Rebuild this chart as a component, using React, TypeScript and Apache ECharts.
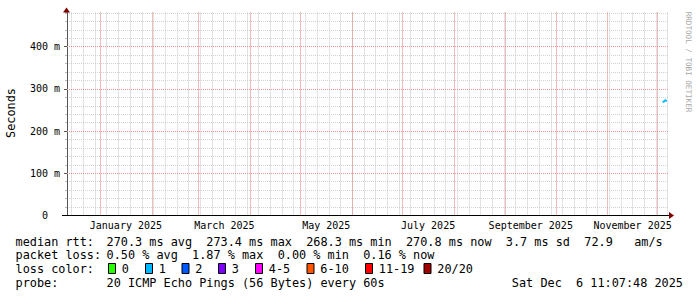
import React, { useEffect, useRef } from "react";
import * as echarts from "echarts";

// ---- data ----
const rangeStartIso = "2024-12-12T05:00:00Z";
const rangeEndIso = "2025-12-07T05:00:00Z";
const yMaxMs = 481;
const yMajorStep = 100;
const yMinorStep = 20;

const labelMonths = ["2025-01", "2025-03", "2025-05", "2025-07", "2025-09", "2025-11"];
const monthLabels = ["January 2025", "March 2025", "May 2025", "July 2025", "September 2025", "November 2025"];

const rttTimes = ["2025-12-04T00:00:00Z", "2025-12-04T20:00:00Z", "2025-12-05T12:00:00Z", "2025-12-06T11:00:00Z"];
const rttValues = [268.3, 270.3, 273.4, 270.8];

const lossLabels = ["0", "1", "2", "3", "4-5", "6-10", "11-19", "20/20"];
const lossColors = ["#26ff00", "#00b8ff", "#0059ff", "#7e00ff", "#ff00ff", "#ff5500", "#ff0000", "#a10000"];

const rowHeads = ["median rtt:", "packet loss:", "loss color:", "probe:"];
const rttStats = "270.3 ms avg  273.4 ms max  268.3 ms min  270.8 ms now  3.7 ms sd  72.9   am/s";
const lossStats = "0.50 % avg  1.87 % max  0.00 % min  0.16 % now";
const probeText = "20 ICMP Echo Pings (56 Bytes) every 60s";
const stampText = "Sat Dec  6 11:07:48 2025";
const yTitle = "Seconds";
const watermark = "RRDTOOL / TOBI OETIKER";

// ---- derived calendar / grid helpers ----
const t0 = Date.parse(rangeStartIso);
const t1 = Date.parse(rangeEndIso);
const DAY = 86400000;

function monthStartsIn(a: number, b: number): number[] {
  const out: number[] = [];
  const d = new Date(a);
  const y = d.getUTCFullYear();
  let m = d.getUTCMonth() + 1;
  while (true) {
    const t = Date.UTC(y, m, 1);
    if (t > b) break;
    if (t > a) out.push(t);
    m++;
  }
  return out;
}
function sundaysIn(a: number, b: number): number[] {
  const out: number[] = [];
  const d = new Date(a);
  let t = Date.UTC(d.getUTCFullYear(), d.getUTCMonth(), d.getUTCDate());
  while (new Date(t).getUTCDay() !== 0 || t <= a) t += DAY;
  for (; t < b; t += 7 * DAY) out.push(t);
  return out;
}
function steps(step: number, max: number): number[] {
  const out: number[] = [];
  for (let v = step; v < max; v += step) out.push(v);
  return out;
}
const labelPositions = labelMonths.map((s) => {
  const [y, m] = s.split("-").map(Number);
  return (Date.UTC(y, m - 1, 1) + Date.UTC(y, m, 1)) / 2;
});

const MONO = '"DejaVu Sans Mono", "Liberation Mono", monospace';
const LEG = 11.85;

export default function App() {
  const ref = useRef<HTMLDivElement>(null);
  useEffect(() => {
    if (!ref.current) return;
    const chart = echarts.init(ref.current, undefined, { renderer: "svg" });

    const gridLeft = 67;
    const gridTop = 12.5;
    const gridRight = 29;
    const gridBottom = 81.5;
    const plotRight = 697 - gridRight;
    const axisY = 215.5;

    const rowY = [241.7, 255.2, 269, 282.8];
    const colX = 106.5;
    const boxX = [108, 145, 181.5, 218, 255, 306.5, 365, 423.5];
    const graphics: any[] = [];
    rowHeads.forEach((h, i) => {
      graphics.push({
        type: "text", x: 15.5, y: rowY[i],
        style: { text: h, fill: "#000", fontFamily: MONO, fontSize: LEG, verticalAlign: "middle", align: "left" },
      });
    });
    graphics.push({ type: "text", x: colX, y: rowY[0], style: { text: rttStats, fill: "#000", fontFamily: MONO, fontSize: LEG, verticalAlign: "middle" } });
    graphics.push({ type: "text", x: colX, y: rowY[1], style: { text: lossStats, fill: "#000", fontFamily: MONO, fontSize: LEG, verticalAlign: "middle" } });
    graphics.push({ type: "text", x: colX, y: rowY[3], style: { text: probeText, fill: "#000", fontFamily: MONO, fontSize: LEG, verticalAlign: "middle" } });
    graphics.push({ type: "text", x: 683, y: rowY[3], style: { text: stampText, fill: "#000", fontFamily: MONO, fontSize: LEG, verticalAlign: "middle", align: "right" } });
    lossLabels.forEach((l, i) => {
      graphics.push({
        type: "rect", shape: { x: boxX[i] + 0.5, y: 263.5, width: 7, height: 10 },
        style: { fill: lossColors[i], stroke: "#000", lineWidth: 1 },
      });
      graphics.push({
        type: "text", x: boxX[i] + 13.8, y: rowY[2],
        style: { text: l, fill: "#000", fontFamily: MONO, fontSize: LEG, verticalAlign: "middle" },
      });
    });
    graphics.push({
      type: "text", x: 11, y: 113, rotation: Math.PI / 2,
      style: { text: yTitle, fill: "#000", fontFamily: MONO, fontSize: LEG, align: "center", verticalAlign: "middle" },
    });
    graphics.push({
      type: "text", x: 688, y: 62, rotation: -Math.PI / 2,
      style: { text: watermark, fill: "#a8a8a8", fontFamily: MONO, fontSize: 7.6, align: "center", verticalAlign: "middle" },
    });
    graphics.push({
      type: "polygon", z: 10,
      shape: { points: [[gridLeft - 0.5, 7.5], [gridLeft - 4, 12.5], [gridLeft + 3, 12.5]] },
      style: { fill: "#7f0000" },
    });
    graphics.push({
      type: "polygon", z: 10,
      shape: { points: [[plotRight + 6, axisY], [plotRight + 1, axisY - 3.5], [plotRight + 1, axisY + 3.5]] },
      style: { fill: "#7f0000" },
    });
    graphics.push({
      type: "line", z: 9,
      shape: { x1: gridLeft - 5, y1: axisY, x2: plotRight + 2, y2: axisY },
      style: { stroke: "#000", lineWidth: 1 },
    });

    const grayDot = { color: "#d2d2d2", width: 1, type: [1, 1] as any };
    const grayDotV = { color: "#c6c6c6", width: 1, type: [1, 1] as any };
    const redDotH = { color: "#e89494", width: 1, type: [1, 1] as any };
    const redDotV = { color: "#e07a7a", width: 1, type: [1, 1] as any };

    const gridSeries = (lines: any[], style: any, z: number) => ({
      type: "line", xAxisIndex: 0, yAxisIndex: 0, z, data: [], silent: true,
      markLine: {
        silent: true, symbol: ["none", "none"], label: { show: false },
        lineStyle: style, emphasis: { disabled: true }, data: lines,
      },
    });

    const option: any = {
      animation: false,
      backgroundColor: "#fff",
      grid: { left: gridLeft, top: gridTop, right: gridRight, bottom: gridBottom, containLabel: false },
      xAxis: [
        {
          type: "value", min: t0, max: t1, position: "bottom", z: 3,
          axisLine: { show: true, onZero: false, lineStyle: { color: "#000", width: 1 } },
          axisTick: { show: false },
          splitLine: { show: false },
          axisLabel: {
            customValues: labelPositions,
            formatter: (v: number) => {
              const i = labelPositions.findIndex((p) => Math.abs(p - v) < 1000);
              return i >= 0 ? monthLabels[i] : "";
            },
            fontFamily: MONO, fontSize: 10, color: "#000", margin: 5,
          },
        },
      ],
      yAxis: [
        {
          type: "value", min: 0, max: yMaxMs, interval: yMajorStep, position: "left", z: 3,
          axisLine: { show: true, lineStyle: { color: "#555", width: 1 } },
          axisTick: { show: true, length: 3, lineStyle: { color: "#555" } },
          axisLabel: {
            showMaxLabel: false,
            formatter: (v: number) => (v % yMajorStep !== 0 ? "" : v === 0 ? "0\u00a0\u00a0" : `${v} m`),
            fontFamily: MONO, fontSize: 10, color: "#000", margin: 7,
          },
          splitLine: { show: false },
        },
        {
          type: "value", min: 0, max: yMaxMs, interval: yMinorStep, position: "left", z: 1,
          axisLine: { show: false },
          axisTick: { show: true, length: 2, lineStyle: { color: "#bbb" } },
          axisLabel: { show: false },
          splitLine: { show: true, showMinLine: false, showMaxLine: false, lineStyle: grayDot },
        },
      ],
      series: [
        gridSeries(sundaysIn(t0, t1).map((t) => ({ xAxis: t })), grayDotV, 1),
        gridSeries(monthStartsIn(t0, t1).map((t) => ({ xAxis: t })), redDotV, 2),
        gridSeries(steps(yMajorStep, yMaxMs).map((v) => [{ coord: [t0, v] }, { coord: [t1, v] }]), redDotH, 3),
        {
          type: "line", xAxisIndex: 0, yAxisIndex: 0, z: 5,
          data: rttTimes.map((t, i) => [Date.parse(t), rttValues[i]]),
          showSymbol: false,
          lineStyle: { color: lossColors[1], width: 2 },
          itemStyle: { color: lossColors[1] },
        },
      ],
      graphic: graphics,
    };
    chart.setOption(option);
    return () => chart.dispose();
  }, []);
  return <div ref={ref} style={{ position: "fixed", left: 0, top: 0, width: 697, height: 297 }} />;
}
